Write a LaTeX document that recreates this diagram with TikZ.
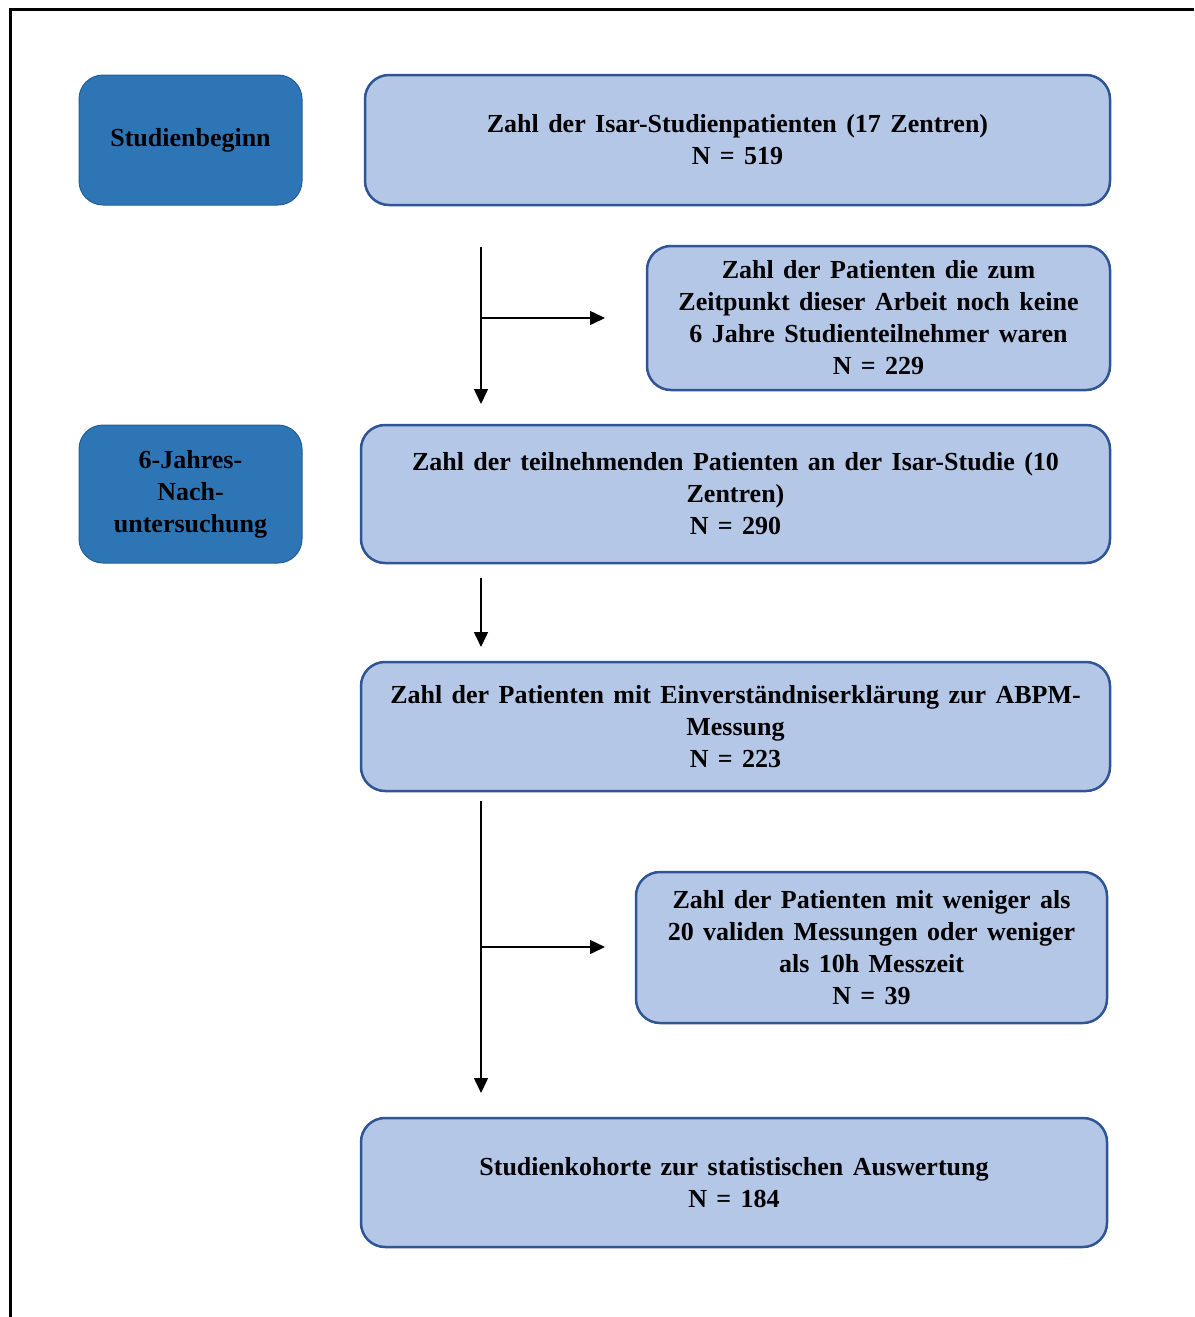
\documentclass[tikz,border=0pt]{standalone}
\usepackage{fontspec}
\setmainfont{Liberation Serif}
\usetikzlibrary{arrows.meta}
\definecolor{phase}{HTML}{2E75B6}
\definecolor{boxfill}{HTML}{B4C7E7}
\definecolor{boxline}{HTML}{2F5597}
\newcommand{\flowfont}{\fontsize{26}{32}\selectfont\bfseries\spaceskip=9.4pt plus 2pt minus 1pt\relax}
\begin{document}
\begin{tikzpicture}[x=1pt,y=-1pt,
    phasebox/.style={rounded corners=24pt, fill=phase, draw=phase!80!black, line width=1pt,
        minimum width=223pt, minimum height=130pt, align=center, font=\flowfont},
    countbox/.style={rounded corners=24pt, fill=boxfill, draw=boxline, line width=2.5pt,
        align=center, font=\flowfont},
    flow/.style={line width=1.5pt, -{Triangle[length=15pt,width=14pt]}}]
        \useasboundingbox (0,0) rectangle (1194,1317);
        \draw[line width=3pt] (1194,9) -- (10,9) -- (10,1317);

        \node[phasebox] (start) at (190.5,140) {Studienbeginn};
        \node[phasebox, minimum height=138pt] (followup) at (190.5,494) {6-Jahres-\\Nach-\\untersuchung};

        \node[countbox, minimum width=745pt, minimum height=130pt] (all) at (737.5,140)
            {Zahl der Isar-Studienpatienten (17 Zentren)\\N = 519};
        \node[countbox, minimum width=463pt, minimum height=144pt] (notyet) at (878.5,318)
            {Zahl der Patienten die zum\\Zeitpunkt dieser Arbeit noch keine\\6 Jahre Studienteilnehmer waren\\N = 229};
        \node[countbox, minimum width=749pt, minimum height=138pt] (part) at (735.5,494)
            {Zahl der teilnehmenden Patienten an der Isar-Studie (10\\Zentren)\\N = 290};
        \node[countbox, minimum width=749pt, minimum height=129pt] (consent) at (735.5,726.5)
            {Zahl der Patienten mit Einverständniserklärung zur ABPM-\\Messung\\N = 223};
        \node[countbox, minimum width=471pt, minimum height=151pt] (invalid) at (871.5,947.5)
            {Zahl der Patienten mit weniger als\\20 validen Messungen oder weniger\\als 10h Messzeit\\N = 39};
        \node[countbox, minimum width=746pt, minimum height=129pt] (cohort) at (734,1182.5)
            {Studienkohorte zur statistischen Auswertung\\N = 184};

        \coordinate (a1) at (481,247);
        \coordinate (a2) at (481,404);
        \coordinate (b1) at (481,318);
        \coordinate (b2) at (605,318);
        \coordinate (c1) at (481,578);
        \coordinate (c2) at (481,647);
        \coordinate (d1) at (481,801);
        \coordinate (d2) at (481,1093);
        \coordinate (e1) at (481,947);
        \coordinate (e2) at (605,947);

        \draw[flow] (a1) -- (a2);
        \draw[flow] (b1) -- (b2);
        \draw[flow] (c1) -- (c2);
        \draw[flow] (d1) -- (d2);
        \draw[flow] (e1) -- (e2);
    \end{tikzpicture}
\end{document}
